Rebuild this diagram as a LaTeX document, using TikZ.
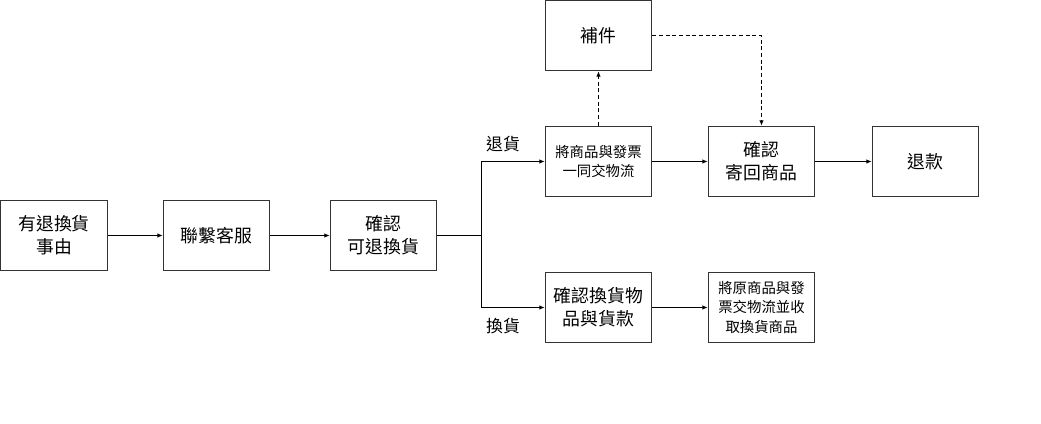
\documentclass[tikz,border=0pt]{standalone}
\usepackage{fontspec}
\setmainfont{Noto Sans CJK TC}
\usepackage{tikz}
\usetikzlibrary{arrows.meta,positioning,calc}

\begin{document}
\begin{tikzpicture}[x=0.75pt,y=-0.75pt,
    box/.style={draw=black!80,line width=0.8pt,fill=white,minimum width=80pt,minimum height=53pt,
        align=center,inner sep=2pt,font=\fontsize{13.4}{17}\selectfont},
    smallbox/.style={box,font=\fontsize{10.8}{14.8}\selectfont},
    flow/.style={-{Latex[length=4pt,width=3.5pt]},line width=0.75pt},
    dflow/.style={flow,dashed,dash pattern=on 3pt off 2pt},
    lbl/.style={font=\fontsize{12.7}{14}\selectfont}]
    \useasboundingbox (0,0) rectangle (1041,424);

    % Main chain
    \node[box] (reason) at (54,235.5) {有退換貨\\事由};
    \node[box] (service) at (216.5,235.5) {聯繫客服};
    \node[box] (confirm) at (383.5,235.5) {確認\\可退換貨};

    % Return branch
    \node[smallbox] (ship) at (598.5,161.5) {將商品與發票\\一同交物流};
    \node[box] (supply) at (598.5,35.5) {補件};
    \node[box] (receive) at (761.5,161.5) {確認\\寄回商品};
    \node[box] (refund) at (925.5,161.5) {退款};

    % Exchange branch
    \node[box] (check) at (598.5,307.5) {確認換貨物\\品與貨款};
    \node[smallbox] (swap) at (761.5,307.5) {將原商品與發\\票交物流並收\\取換貨商品};

    % Branch labels
    \node[lbl] (lret) at (503,144) {退貨};
    \node[lbl] (lexc) at (503,326) {換貨};

    % Connectors
    \draw[flow] (reason) -- (service);
    \draw[flow] (service) -- (confirm);
    \coordinate (split) at (481,235.5);
    \draw[line width=0.75pt] (confirm) -- (split);
    \draw[flow] (split) |- (ship);
    \draw[flow] (split) |- (check);
    \draw[flow] (ship) -- (receive);
    \draw[flow] (receive) -- (refund);
    \draw[flow] (check) -- (swap);

    % Dashed supplement loop
    \draw[dflow] (ship) -- (supply);
    \draw[dflow] (supply.east) -| (receive.north);
\end{tikzpicture}
\end{document}
